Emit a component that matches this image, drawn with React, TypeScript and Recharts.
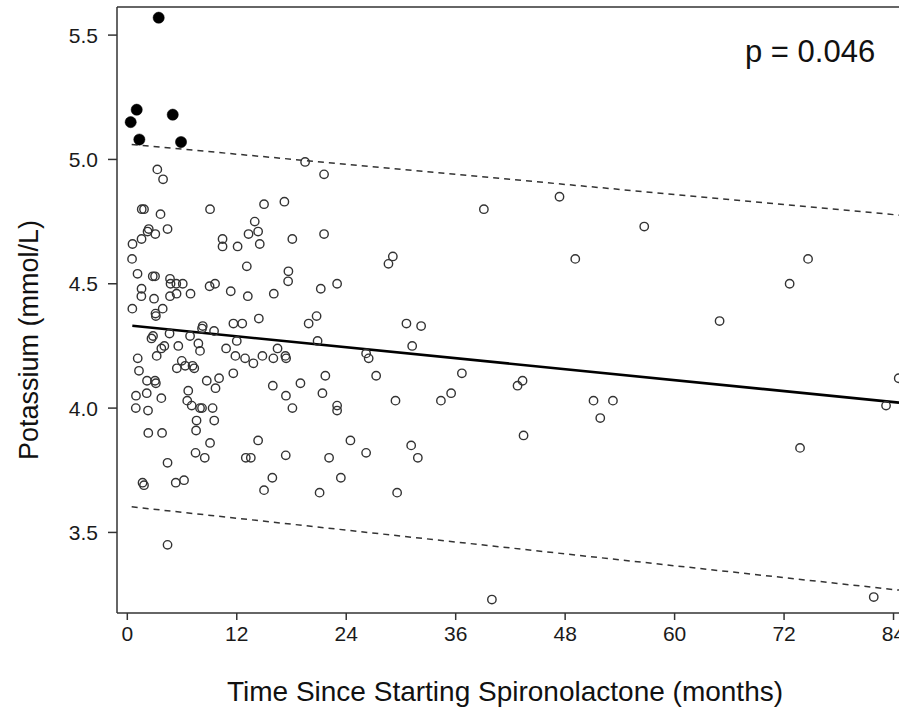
import React from "react";
import { ScatterChart, Scatter, XAxis, YAxis, ReferenceLine } from "recharts";

// Months since starting spironolactone, potassium (mmol/L)
const normalPoints: [number, number][] = [
  [3.29, 4.96], [3.92, 4.92], [1.58, 4.8], [1.83, 4.8], [3.64, 4.78], [9.07, 4.8], [19.49, 4.99],
  [21.57, 4.94], [14.99, 4.82], [17.22, 4.83], [39.09, 4.8], [47.38, 4.85], [56.67, 4.73],
  [2.35, 4.72], [2.22, 4.71], [3.07, 4.7], [4.41, 4.72], [1.56, 4.68], [0.57, 4.66], [10.44, 4.68],
  [10.44, 4.65], [12.09, 4.65], [13.97, 4.75], [14.34, 4.71], [13.29, 4.7], [14.52, 4.66],
  [18.09, 4.68], [21.57, 4.7], [49.11, 4.6], [74.63, 4.6], [29.11, 4.61], [28.63, 4.58],
  [0.52, 4.6], [1.12, 4.54], [2.79, 4.53], [3.04, 4.53], [4.68, 4.52], [4.74, 4.5], [5.37, 4.5],
  [6.08, 4.5], [1.56, 4.48], [9.02, 4.49], [9.62, 4.5], [13.1, 4.57], [17.66, 4.55], [17.63, 4.51],
  [72.61, 4.5], [21.21, 4.48], [23.0, 4.5], [1.54, 4.45], [2.93, 4.44], [4.68, 4.45], [5.4, 4.46],
  [6.93, 4.46], [11.34, 4.47], [13.21, 4.45], [16.06, 4.46], [0.55, 4.4], [3.88, 4.4], [3.09, 4.38],
  [3.13, 4.37], [8.27, 4.33], [8.19, 4.32], [9.51, 4.31], [11.63, 4.34], [12.6, 4.34], [14.42, 4.36],
  [19.88, 4.34], [20.75, 4.37], [30.6, 4.34], [32.21, 4.33], [64.93, 4.35], [2.65, 4.28],
  [2.82, 4.29], [4.63, 4.3], [6.88, 4.29], [7.79, 4.26], [7.97, 4.23], [4.06, 4.25], [3.73, 4.24],
  [5.59, 4.25], [10.83, 4.24], [12.0, 4.27], [11.85, 4.21], [12.91, 4.2], [13.82, 4.18],
  [14.81, 4.21], [16.01, 4.2], [16.47, 4.24], [17.33, 4.21], [17.41, 4.2], [20.86, 4.27],
  [26.18, 4.22], [26.46, 4.2], [31.23, 4.25], [3.22, 4.21], [1.14, 4.2], [1.28, 4.15], [5.97, 4.19],
  [5.43, 4.16], [6.35, 4.17], [7.15, 4.17], [7.34, 4.16], [11.62, 4.14], [10.06, 4.12], [8.71, 4.11],
  [9.67, 4.08], [15.95, 4.09], [18.98, 4.1], [21.71, 4.13], [21.39, 4.06], [27.28, 4.13],
  [36.68, 4.14], [42.78, 4.09], [43.33, 4.11], [84.57, 4.12], [2.16, 4.11], [3.04, 4.11],
  [3.13, 4.1], [0.95, 4.05], [2.13, 4.06], [3.73, 4.04], [6.68, 4.07], [6.57, 4.03], [17.39, 4.05],
  [0.93, 4.0], [2.27, 3.99], [7.06, 4.01], [7.97, 4.0], [8.19, 4.0], [9.35, 4.0], [18.1, 4.0],
  [23.0, 4.01], [23.0, 3.99], [29.4, 4.03], [34.38, 4.03], [35.5, 4.06], [51.11, 4.03],
  [53.24, 4.03], [83.18, 4.01], [51.85, 3.96], [7.59, 3.95], [9.53, 3.95], [7.54, 3.91], [2.3, 3.9],
  [3.81, 3.9], [9.07, 3.86], [7.48, 3.82], [8.49, 3.8], [14.34, 3.87], [12.99, 3.8], [13.54, 3.8],
  [17.37, 3.81], [4.41, 3.78], [1.67, 3.7], [1.83, 3.69], [5.31, 3.7], [6.22, 3.71], [15.9, 3.72],
  [14.99, 3.67], [21.08, 3.66], [22.12, 3.8], [23.41, 3.72], [24.46, 3.87], [26.18, 3.82],
  [31.12, 3.85], [31.85, 3.8], [29.58, 3.66], [43.44, 3.89], [73.75, 3.84], [4.41, 3.45],
  [39.97, 3.23], [81.83, 3.24],
];

const highPoints: [number, number][] = [
  [3.44, 5.57], [1.03, 5.2], [0.37, 5.15], [4.98, 5.18], [1.32, 5.08], [5.89, 5.07],
];

const fitLine = [{ x: 0.55, y: 4.331 }, { x: 84.6, y: 4.022 }];
const upperBand = [{ x: 0.48, y: 5.06 }, { x: 84.6, y: 4.776 }];
const lowerBand = [{ x: 0.48, y: 3.603 }, { x: 84.6, y: 3.268 }];

const xTicks = [0, 12, 24, 36, 48, 60, 72, 84];
const yTicks = [3.5, 4.0, 4.5, 5.0, 5.5];
const xDomain: [number, number] = [-1.13, 84.6];
const yDomain: [number, number] = [3.176, 5.613];

const xTitle = "Time Since Starting Spironolactone (months)";
const yTitle = "Potassium (mmol/L)";
const pText = "p = 0.046";

const FONT = "'Liberation Sans', Arial, Helvetica, sans-serif";

const normalData = normalPoints.map(([x, y]) => ({ x, y }));
const highData = highPoints.map(([x, y]) => ({ x, y }));

const OpenCircle = (props: any) => {
  const { cx, cy } = props;
  if (cx == null || cy == null) return null;
  return <circle cx={cx} cy={cy} r={4.2} fill="none" stroke="#333" strokeWidth={1.4} />;
};

const FilledCircle = (props: any) => {
  const { cx, cy } = props;
  if (cx == null || cy == null) return null;
  return <circle cx={cx} cy={cy} r={5.6} fill="#000" stroke="#000" strokeWidth={0.5} />;
};

export default function App() {
  return (
    <div style={{ position: "absolute", left: 0, top: 0, width: 899, height: 710, background: "#fff", overflow: "hidden" }}>
      <ScatterChart width={899} height={710} margin={{ top: 7, right: 0, bottom: 0, left: 0 }}>
        <XAxis
          dataKey="x"
          type="number"
          domain={xDomain}
          ticks={xTicks}
          allowDataOverflow
          height={97}
          tickSize={7}
          tickMargin={6}
          axisLine={{ stroke: "#333", strokeWidth: 1.5 }}
          tickLine={{ stroke: "#333", strokeWidth: 1.5 }}
          tick={{ fontSize: 21, fill: "#1a1a1a", fontFamily: FONT }}
          interval={0}
        />
        <YAxis
          dataKey="y"
          type="number"
          domain={yDomain}
          ticks={yTicks}
          allowDataOverflow
          width={117}
          tickSize={9}
          tickMargin={10}
          tickFormatter={(v: number) => v.toFixed(1)}
          axisLine={{ stroke: "#333", strokeWidth: 1.5 }}
          tickLine={{ stroke: "#333", strokeWidth: 1.5 }}
          tick={{ fontSize: 21, fill: "#1a1a1a", fontFamily: FONT }}
          interval={0}
        />
        <ReferenceLine y={yDomain[1]} stroke="#333" strokeWidth={1.5} />
        <ReferenceLine segment={upperBand} stroke="#333" strokeWidth={1.5} strokeDasharray="6 5" />
        <ReferenceLine segment={lowerBand} stroke="#333" strokeWidth={1.5} strokeDasharray="6 5" />
        <ReferenceLine segment={fitLine} stroke="#000" strokeWidth={2.6} />
        <Scatter data={normalData} shape={OpenCircle} isAnimationActive={false} />
        <Scatter data={highData} shape={FilledCircle} isAnimationActive={false} />
      </ScatterChart>
      <svg width={899} height={710} style={{ position: "absolute", left: 0, top: 0, pointerEvents: "none" }}>
        <text x={745} y={62} fontSize={31} fontFamily={FONT} fill="#111">{pText}</text>
        <text x={505} y={701} fontSize={28} fontFamily={FONT} fill="#111" textAnchor="middle">{xTitle}</text>
        <text x={38} y={340} fontSize={27} fontFamily={FONT} fill="#111" textAnchor="middle" transform="rotate(-90 38 340)">{yTitle}</text>
      </svg>
    </div>
  );
}
